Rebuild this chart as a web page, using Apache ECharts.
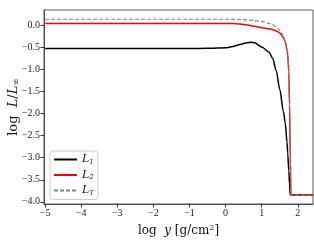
<!DOCTYPE html>
<html><head><meta charset="utf-8">
<script src="https://cdn.jsdelivr.net/npm/echarts@6/dist/echarts.min.js"></script>
<style>html,body{margin:0;padding:0;background:#fff}#c{width:314px;height:245px}</style>
</head><body><div id="c"></div>
<script>
var xs = [-5, -4, -3, -2, -1, -0.5, 0, 0.2, 0.4, 0.6, 0.7, 0.8, 1.0, 1.2, 1.3, 1.4, 1.5, 1.6, 1.65, 1.7, 1.72, 1.75, 1.77, 1.79, 1.81, 2.0, 2.2, 2.42];
var L1 = [-0.525, -0.525, -0.525, -0.525, -0.524, -0.52, -0.505, -0.48, -0.43, -0.39, -0.383, -0.395, -0.49, -0.6, -0.74, -1.02, -1.45, -1.95, -2.2, -2.65, -2.9, -3.3, -3.6, -3.84, -3.845, -3.845, -3.845, -3.845];
var L2 = [0.045, 0.045, 0.045, 0.045, 0.045, 0.045, 0.045, 0.043, 0.03, 0.01, -0.005, -0.02, -0.05, -0.075, -0.095, -0.125, -0.17, -0.27, -0.37, -0.55, -0.68, -1.05, -1.8, -3.0, -3.85, -3.85, -3.85, -3.85];
var LT = [0.14, 0.14, 0.14, 0.14, 0.14, 0.14, 0.14, 0.138, 0.135, 0.125, 0.12, 0.11, 0.09, 0.045, 0.02, -0.03, -0.11, -0.24, -0.36, -0.52, -0.62, -1.0, -1.8, -3.0, -3.85, -3.85, -3.85, -3.85];
var xTicks = [-5, -4, -3, -2, -1, 0, 1, 2];
var yTicks = [-4.0, -3.5, -3.0, -2.5, -2.0, -1.5, -1.0, -0.5, 0.0];
var names = ['L1', 'L2', 'LT'];

function pairs(ys){ return xs.map(function(x,i){ return [x, ys[i]]; }); }
function fmt(v, d){ var s = Math.abs(v).toFixed(d); return (v < -1e-9 ? '\u2212' : '') + s; }
var FONT = 'DejaVu Serif';
var TFONT = 'Liberation Serif';
var chart = echarts.init(document.getElementById('c'));
var axisLine = {show: true, onZero: false, lineStyle: {color: '#333', width: 0.8}};
chart.setOption({
  animation: false,
  grid: {left: 44, top: 10, right: 1, bottom: 41, outerBoundsMode: 'none', containLabel: false, show: true, borderColor: '#333', borderWidth: 0.8, backgroundColor: 'transparent'},
  xAxis: {
    type: 'value', min: -5.03, max: 2.42,
    axisLine: axisLine, splitLine: {show: false},
    axisTick: {show: true, customValues: xTicks, length: 3.5, lineStyle: {color: '#333'}},
    axisLabel: {customValues: xTicks, formatter: function(v){ return fmt(v,0); }, fontFamily: TFONT, fontSize: 10, color: '#222', margin: 4},
    name: '{n|log  }{i|y}{n| [g/cm}{s|2}{n|]}', nameLocation: 'middle', nameGap: 20, nameMoveOverlap: false,
    nameTextStyle: {rich: {
      n: {fontFamily: FONT, fontSize: 12, color: '#111'},
      i: {fontFamily: FONT, fontStyle: 'italic', fontSize: 12, color: '#111'},
      s: {fontFamily: FONT, fontSize: 8, color: '#111', verticalAlign: 'top', padding: [0,0,6,0]}
    }}
  },
  yAxis: {
    type: 'value', min: -4.05, max: 0.35,
    axisLine: axisLine, splitLine: {show: false},
    axisTick: {show: true, customValues: yTicks, length: 3.5, lineStyle: {color: '#333'}},
    axisLabel: {customValues: yTicks, formatter: function(v){ return fmt(v,1); }, fontFamily: TFONT, fontSize: 10, color: '#222', margin: 4},
    name: '{n|log  }{i|L}{n|/}{i|L}{s|\u221E}', nameLocation: 'middle', nameGap: 23, nameRotate: 90, nameMoveOverlap: false,
    nameTextStyle: {rich: {
      n: {fontFamily: FONT, fontSize: 13, color: '#111'},
      i: {fontFamily: FONT, fontStyle: 'italic', fontSize: 13, color: '#111'},
      s: {fontFamily: FONT, fontSize: 9, color: '#111', padding: [6,0,0,0]}
    }}
  },
  legend: {
    orient: 'vertical', left: 50, top: 151, padding: [3, 4, 3, 3],
    itemWidth: 23, itemHeight: 10, itemGap: 4,
    backgroundColor: 'rgba(255,255,255,0.8)', borderColor: '#ccc', borderWidth: 1, borderRadius: 3,
    data: names,
    itemStyle: {opacity: 0},
    formatter: function(n){ return '{i|L}{s|' + n.slice(1) + '}'; },
    textStyle: {padding: [0,0,0,0], rich: {
      i: {fontFamily: FONT, fontStyle: 'italic', fontSize: 11, color: '#111'},
      s: {fontFamily: FONT, fontStyle: 'italic', fontSize: 7, color: '#111', padding: [5,0,0,0]}
    }}
  },
  series: [
    {name: 'L1', type: 'line', data: pairs(L1), symbol: 'none', smooth: 0.3, smoothMonotone: 'x', lineStyle: {color: '#000', width: 1.5}, itemStyle: {color: '#000'}},
    {name: 'L2', type: 'line', data: pairs(L2), symbol: 'none', smooth: 0.3, smoothMonotone: 'x', lineStyle: {color: '#ff0000', width: 1.5}, itemStyle: {color: '#ff0000'}},
    {name: 'LT', type: 'line', data: pairs(LT), symbol: 'none', smooth: 0.3, smoothMonotone: 'x', lineStyle: {color: '#808080', width: 1.2, type: [4, 2]}, itemStyle: {color: '#808080'}}
  ]
});
</script></body></html>
